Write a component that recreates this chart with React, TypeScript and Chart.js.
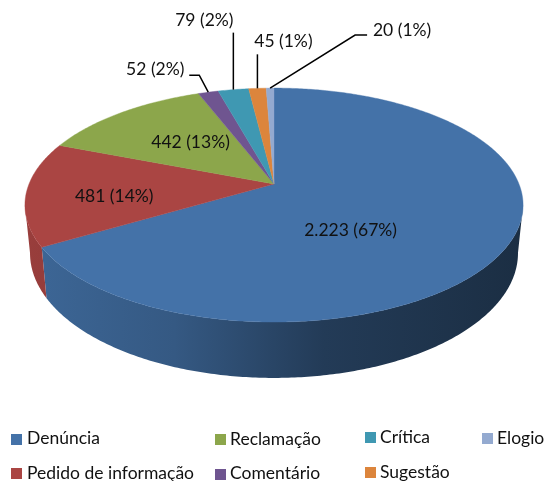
import React, { useEffect, useRef } from "react";
import { Chart, PieController, ArcElement } from "chart.js";

const categories = ["Denúncia", "Pedido de informação", "Reclamação", "Comentário", "Crítica", "Sugestão", "Elogio"];
const values = [2223, 481, 442, 52, 79, 45, 20];
const colors = ["#4472a8", "#aa4543", "#8ca64b", "#6f5590", "#3f98b2", "#dc853c", "#94aad0"];

const FONT = "Lato, Carlito, sans-serif";

// perspective projection of the pie's unit circle
const TOP = { cx: 274, cy: 184, a: 245, b: 113.2, k: 0.18 };
const BOTTOM = { cx: 274, cy: 230.6, a: 240, b: 120.8, k: 0.18 };
type Proj = typeof TOP;
const project = (p: Proj, angle: number, r = 1) => {
  const u = r * Math.cos(angle);
  const v = r * Math.sin(angle);
  const s = 1 / (1 - p.k * v);
  return { x: p.cx + p.a * u * s, y: p.cy + p.b * v * s };
};
const SILHOUETTE_RIGHT = Math.asin(TOP.k);
const SILHOUETTE_LEFT = Math.PI - Math.asin(TOP.k);

const shade = (hex: string, m: number) => {
  const n = parseInt(hex.slice(1), 16);
  const c = [(n >> 16) & 255, (n >> 8) & 255, n & 255].map((v) => Math.round(v * m));
  return `rgb(${c[0]},${c[1]},${c[2]})`;
};

class Arc3D extends ArcElement {
  static id = "arc3d";
  draw(ctx: CanvasRenderingContext2D) {
    const { startAngle, endAngle } = this as any;
    const color = (this as any).options.backgroundColor;
    const steps = Math.max(4, Math.ceil((endAngle - startAngle) * 90));
    ctx.save();
    ctx.beginPath();
    ctx.moveTo(TOP.cx, TOP.cy);
    for (let i = 0; i <= steps; i++) {
      const p = project(TOP, startAngle + ((endAngle - startAngle) * i) / steps);
      ctx.lineTo(p.x, p.y);
    }
    ctx.closePath();
    ctx.fillStyle = color;
    ctx.strokeStyle = color;
    ctx.lineWidth = 0.4;
    ctx.fill();
    ctx.stroke();
    ctx.restore();
  }
}

class Pie3DController extends PieController {
  static id = "pie3d";
  static defaults = { dataElementType: "arc3d" };
  draw() {
    const ctx = (this as any).chart.ctx as CanvasRenderingContext2D;
    const arcs = (this as any).getMeta().data as any[];
    arcs.forEach((arc) => {
      const from = Math.max(arc.startAngle, SILHOUETTE_RIGHT);
      const to = Math.min(arc.endAngle, SILHOUETTE_LEFT);
      if (to <= from) return;
      const base = arc.options.backgroundColor as string;
      const g = ctx.createLinearGradient(25, 0, 523, 0);
      g.addColorStop(0, shade(base, 0.9));
      g.addColorStop(0.3, shade(base, 0.78));
      g.addColorStop(0.6, shade(base, 0.52));
      g.addColorStop(1, shade(base, 0.4));
      const steps = Math.ceil((to - from) * 90);
      ctx.beginPath();
      for (let i = 0; i <= steps; i++) {
        const p = project(TOP, from + ((to - from) * i) / steps);
        i ? ctx.lineTo(p.x, p.y) : ctx.moveTo(p.x, p.y);
      }
      for (let i = steps; i >= 0; i--) {
        const p = project(BOTTOM, from + ((to - from) * i) / steps);
        ctx.lineTo(p.x, p.y);
      }
      ctx.closePath();
      ctx.fillStyle = g;
      ctx.fill();
    });
    super.draw();
  }
}

const formatValue = (v: number) => String(v).replace(/\B(?=(\d{3})+$)/g, ".");

// label placement relative to the slice's rim point, one entry per slice
const labelLayout = [
  { dx: -157, dy: -15, leader: [] as number[][] },
  { dx: 88, dy: 3, leader: [] as number[][] },
  { dx: 70, dy: 29, leader: [] as number[][] },
  { dx: -53, dy: -23, leader: [[-9, -17], [-19, -17]] },
  { dx: -29, dy: -69, leader: [[0, -57]] },
  { dx: 26, dy: -47, leader: [[0, -34]] },
  { dx: 132, dy: -58, leader: [[85, -53], [97, -53]] },
];

// legend grid
const legendLayout = [
  { x: 11, y: 434, tx: 27, ty: 438 },
  { x: 11, y: 468, tx: 27, ty: 473 },
  { x: 215, y: 434, tx: 230, ty: 439 },
  { x: 215, y: 469, tx: 230, ty: 473 },
  { x: 365, y: 432, tx: 380, ty: 437 },
  { x: 365, y: 467, tx: 380, ty: 472 },
  { x: 482, y: 433, tx: 497, ty: 438 },
];

const annotations = {
  id: "annotations",
  afterDatasetsDraw(chart: any) {
    const ctx = chart.ctx as CanvasRenderingContext2D;
    const arcs = chart.getDatasetMeta(0).data as any[];
    const total = values.reduce((a, b) => a + b, 0);
    ctx.save();
    ctx.textBaseline = "middle";
    ctx.font = `17.5px ${FONT}`;
    arcs.forEach((arc, i) => {
      const rim = project(TOP, (arc.startAngle + arc.endAngle) / 2);
      const l = labelLayout[i];
      if (l.leader.length) {
        ctx.beginPath();
        ctx.moveTo(rim.x, rim.y);
        l.leader.forEach(([dx, dy]) => ctx.lineTo(rim.x + dx, rim.y + dy));
        ctx.strokeStyle = "#000";
        ctx.lineWidth = 1.5;
        ctx.stroke();
      }
      ctx.fillStyle = "#111";
      ctx.textAlign = "center";
      const pct = Math.round((values[i] / total) * 100);
      ctx.fillText(`${formatValue(values[i])} (${pct}%)`, rim.x + l.dx, rim.y + l.dy);
    });
    ctx.textAlign = "left";
    categories.forEach((name, i) => {
      const p = legendLayout[i];
      ctx.fillStyle = colors[i];
      ctx.fillRect(p.x, p.y, 11, 11);
      ctx.fillStyle = "#111";
      ctx.fillText(name, p.tx, p.ty);
    });
    ctx.restore();
  },
};

Chart.register(ArcElement, Arc3D, Pie3DController);

export default function App() {
  const ref = useRef<HTMLCanvasElement>(null);
  useEffect(() => {
    const chart = new Chart(ref.current as HTMLCanvasElement, {
      type: "pie3d" as any,
      data: {
        labels: categories,
        datasets: [{ data: values, backgroundColor: colors, borderWidth: 0 }],
      },
      options: {
        animation: false,
        responsive: false,
        maintainAspectRatio: false,
        events: [],
      } as any,
      plugins: [annotations],
    });
    return () => chart.destroy();
  }, []);
  return (
    <canvas
      ref={ref}
      width={545}
      height={481}
      style={{ position: "absolute", left: 0, top: 0, display: "block", background: "#fff" }}
    />
  );
}
